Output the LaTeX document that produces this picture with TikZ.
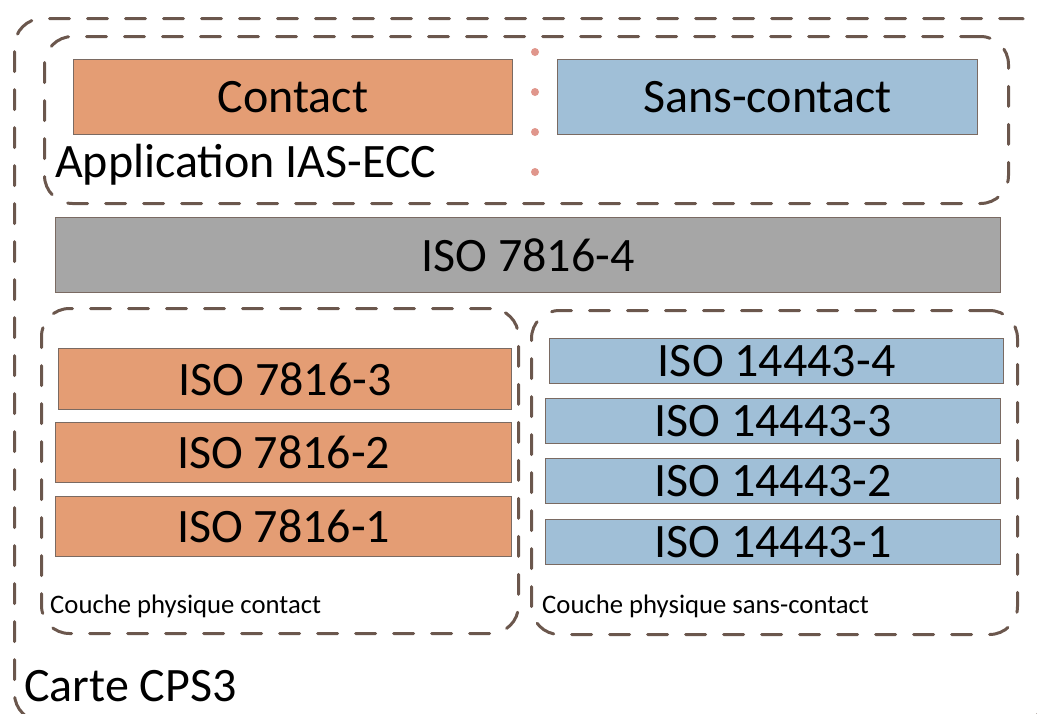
\documentclass[tikz,border=0pt]{standalone}
\usepackage{fontspec}
\setmainfont{Carlito}
\definecolor{orangefill}{HTML}{E49D74}
\definecolor{bluefill}{HTML}{A0BFD7}
\definecolor{grayfill}{HTML}{A6A6A6}
\definecolor{dashcol}{HTML}{6B574D}
\definecolor{edgecol}{HTML}{7A6A62}
\definecolor{dotcol}{HTML}{E0968C}
\tikzset{
  container/.style={draw=dashcol, line width=3pt, dash pattern=on 20pt off 18pt, line cap=round, rounded corners=28pt, minimum width=#1, inner sep=0pt, anchor=north west},
  layer/.style={draw=edgecol, line width=1.2pt, inner sep=0pt, anchor=north west, font=\fontsize{48}{58}\selectfont},
  big/.style={font=\fontsize{48}{58}\selectfont, inner sep=0pt},
  small/.style={font=\fontsize{26.7}{32}\selectfont, inner sep=0pt},
  dotmark/.style={circle, fill=dotcol, inner sep=0pt, minimum size=8pt},
}
\begin{document}
\begin{tikzpicture}[x=1pt,y=-1pt]
\useasboundingbox (0,0) rectangle (1037,713);
\clip (0,0) rectangle (1037,713);
% containers
\node[container=1033pt, minimum height=703pt] (outer) at (13,17) {};
\node[container=964pt, minimum height=167pt] (app) at (43,35) {};
\node[container=477pt, minimum height=325pt] (physc) at (40,307) {};
\node[container=486pt, minimum height=324pt] (physsc) at (530,309) {};
% application layer
\node[layer, fill=orangefill, minimum width=439pt, minimum height=75pt] (contact) at (73,59) {Contact};
\node[layer, fill=bluefill, minimum width=420pt, minimum height=75pt] (sanscontact) at (557,59) {Sans-contact};
\node[dotmark] (d1) at (535,52) {};
\node[dotmark] (d2) at (535,92) {};
\node[dotmark] (d3) at (535,132) {};
\node[dotmark] (d4) at (535,172) {};
\node[big, anchor=base west] (applabel) at (55,177) {Application IAS-ECC};
% ISO 7816-4
\node[layer, fill=grayfill, minimum width=945pt, minimum height=75pt] (iso4) at (55,217) {ISO 7816-4};
% contact physical layer
\node[layer, fill=orangefill, minimum width=453pt, minimum height=61pt] (iso3) at (58,348) {ISO 7816-3};
\node[layer, fill=orangefill, minimum width=456pt, minimum height=60pt] (iso2) at (55,422) {ISO 7816-2};
\node[layer, fill=orangefill, minimum width=456pt, minimum height=60pt] (iso1) at (55,496) {ISO 7816-1};
\node[small, anchor=base west] (physclabel) at (50,613) {Couche physique contact};
% contactless physical layer
\node[layer, fill=bluefill, minimum width=454pt, minimum height=45pt] (c4) at (549,338) {ISO 14443-4};
\node[layer, fill=bluefill, minimum width=455pt, minimum height=45pt] (c3) at (545,398) {ISO 14443-3};
\node[layer, fill=bluefill, minimum width=455pt, minimum height=45pt] (c2) at (545,458) {ISO 14443-2};
\node[layer, fill=bluefill, minimum width=455pt, minimum height=45pt] (c1) at (545,519) {ISO 14443-1};
\node[small, anchor=base west] (physsclabel) at (542,613) {Couche physique sans-contact};
% card label
\node[big, anchor=base west] (cardlabel) at (24,701) {Carte CPS3};
\end{tikzpicture}
\end{document}
